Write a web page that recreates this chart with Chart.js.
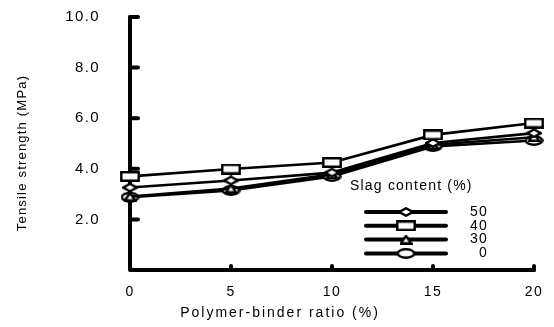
<!DOCTYPE html>
<html>
<head>
<meta charset="utf-8">
<script src="https://cdn.jsdelivr.net/npm/chart.js@4"></script>
<style>
html, body { margin: 0; padding: 0; background: #fff; }
#wrap { width: 554px; height: 327px; }
</style>
</head>
<body>
<div id="wrap"><canvas id="tensileChart"></canvas></div>
<script>
// Tensile strength vs polymer-binder ratio, one line per slag content
const ratio = [0, 5, 10, 15, 20];
const slag50 = [3.26, 3.54, 3.85, 5.02, 5.41];
const slag40 = [3.70, 3.99, 4.25, 5.34, 5.81];
const slag30 = [2.90, 3.22, 3.78, 4.95, 5.25];
const slag0 = [2.88, 3.14, 3.70, 4.88, 5.12];
const yTicks = [2, 4, 6, 8, 10];
const xTicks = [5, 10, 15, 20];
const legendOrder = ['50', '40', '30', '0'];

const FONT = '"Liberation Sans", Arial, sans-serif';
const SPACING = '1.4px';

// marker glyphs: white fill, heavy black outline
function makeMarker(kind, w, h) {
    const c = document.createElement('canvas');
    c.width = w; c.height = h;
    const g = c.getContext('2d');
    g.fillStyle = '#fff';
    g.strokeStyle = '#000';
    g.lineWidth = 2.4;
    g.lineJoin = 'miter';
    const p = 1.3;
    g.beginPath();
    if (kind === 'rect') {
        g.rect(p, p, w - 2 * p, h - 2 * p);
    } else if (kind === 'diamond') {
        g.moveTo(w / 2, p); g.lineTo(w - p, h / 2); g.lineTo(w / 2, h - p); g.lineTo(p, h / 2); g.closePath();
    } else if (kind === 'triangle') {
        g.moveTo(w / 2, p); g.lineTo(w - p, h - p); g.lineTo(p, h - p); g.closePath();
    } else {
        g.ellipse(w / 2, h / 2, w / 2 - p, h / 2 - p, 0, 0, Math.PI * 2);
    }
    g.fill();
    g.stroke();
    return c;
}

const markers = {
    '50': makeMarker('diamond', 16, 10),
    '40': makeMarker('rect', 20, 11),
    '30': makeMarker('triangle', 13, 10),
    '0': makeMarker('ellipse', 19, 11)
};

function series(label, values) {
    return {
        label: label,
        data: ratio.map((r, i) => ({ x: r, y: values[i] })),
        borderColor: '#000',
        borderWidth: 2.6,
        pointStyle: markers[label],
        pointRadius: 8,
        tension: 0,
        clip: false
    };
}

const spacingPlugin = {
    id: 'spacing',
    beforeLayout(chart) { chart.ctx.letterSpacing = SPACING; },
    beforeDraw(chart) { chart.ctx.letterSpacing = SPACING; }
};

// heavy axis lines with inward ticks
const axesPlugin = {
    id: 'axes',
    beforeDatasetsDraw(chart) {
        const ctx = chart.ctx;
        const xs = chart.scales.x, ys = chart.scales.y;
        const left = xs.getPixelForValue(0), right = xs.getPixelForValue(20);
        const bottom = ys.getPixelForValue(0), top = ys.getPixelForValue(10);
        ctx.save();
        ctx.strokeStyle = '#000';
        ctx.lineWidth = 4;
        ctx.lineCap = 'round';
        ctx.lineJoin = 'round';
        ctx.beginPath();
        ctx.moveTo(left, top);
        ctx.lineTo(left, bottom);
        ctx.lineTo(right, bottom);
        ctx.stroke();
        ctx.beginPath();
        yTicks.forEach(v => {
            const py = ys.getPixelForValue(v);
            ctx.moveTo(left, py);
            ctx.lineTo(left + 8, py);
        });
        xTicks.forEach(v => {
            const px = xs.getPixelForValue(v);
            ctx.moveTo(px, bottom);
            ctx.lineTo(px, bottom - 4);
        });
        ctx.stroke();
        ctx.restore();
    },
    afterDraw(chart) {
        const ctx = chart.ctx;
        ctx.save();
        ctx.fillStyle = '#000';
        ctx.textAlign = 'center';
        ctx.textBaseline = 'middle';
        ctx.font = '14px ' + FONT;
        ctx.letterSpacing = '2px';
        ctx.fillText('Polymer-binder ratio (%)', 280, 313);
        ctx.font = '13px ' + FONT;
        ctx.letterSpacing = '1.2px';
        ctx.translate(22, 153);
        ctx.rotate(-Math.PI / 2);
        ctx.fillText('Tensile strength (MPa)', 0, 0);
        ctx.restore();
    }
};

// legend block inside the plot area
const legendPlugin = {
    id: 'slagLegend',
    afterDraw(chart) {
        const ctx = chart.ctx;
        ctx.save();
        ctx.fillStyle = '#000';
        ctx.letterSpacing = '1.2px';
        ctx.font = '14px ' + FONT;
        ctx.textBaseline = 'middle';
        ctx.textAlign = 'left';
        ctx.fillText('Slag content (%)', 350, 186);
        legendOrder.forEach((lab, i) => {
            const y = 212 + i * 13.8;
            ctx.strokeStyle = '#000';
            ctx.lineWidth = 4;
            ctx.lineCap = 'round';
            ctx.beginPath();
            ctx.moveTo(366, y);
            ctx.lineTo(446, y);
            ctx.stroke();
            const m = markers[lab];
            ctx.drawImage(m, 406 - m.width / 2, y - m.height / 2);
            ctx.textAlign = 'right';
            ctx.fillText(lab, 488, y);
        });
        ctx.restore();
    }
};

const ctx = document.getElementById('tensileChart').getContext('2d');
new Chart(ctx, {
    type: 'line',
    data: {
        // first dataset ends up on top
        datasets: [series('40', slag40), series('50', slag50), series('30', slag30), series('0', slag0)]
    },
    options: {
        responsive: true,
        maintainAspectRatio: false,
        animation: false,
        layout: { padding: { top: 17, right: 20, left: 0, bottom: 0 } },
        plugins: { legend: { display: false }, tooltip: { enabled: false } },
        scales: {
            x: {
                type: 'linear',
                min: 0, max: 20,
                grid: { display: false, drawTicks: false },
                border: { display: false },
                ticks: { stepSize: 5, color: '#000', font: { family: FONT, size: 14 }, padding: 14 },
                afterFit(scale) {
                    scale.height = 57;
                    scale.paddingLeft = 0;
                    scale.paddingRight = 0;
                }
            },
            y: {
                min: 0, max: 10,
                grid: { display: false, drawTicks: false },
                border: { display: false },
                ticks: {
                    stepSize: 2, color: '#000', font: { family: FONT, size: 15 }, padding: 30,
                    callback: v => v === 0 ? '' : v.toFixed(1)
                },
                afterFit(scale) {
                    scale.width = 130;
                    scale.paddingTop = 0;
                    scale.paddingBottom = 0;
                }
            }
        }
    },
    plugins: [spacingPlugin, axesPlugin, legendPlugin]
});
</script>
</body>
</html>
